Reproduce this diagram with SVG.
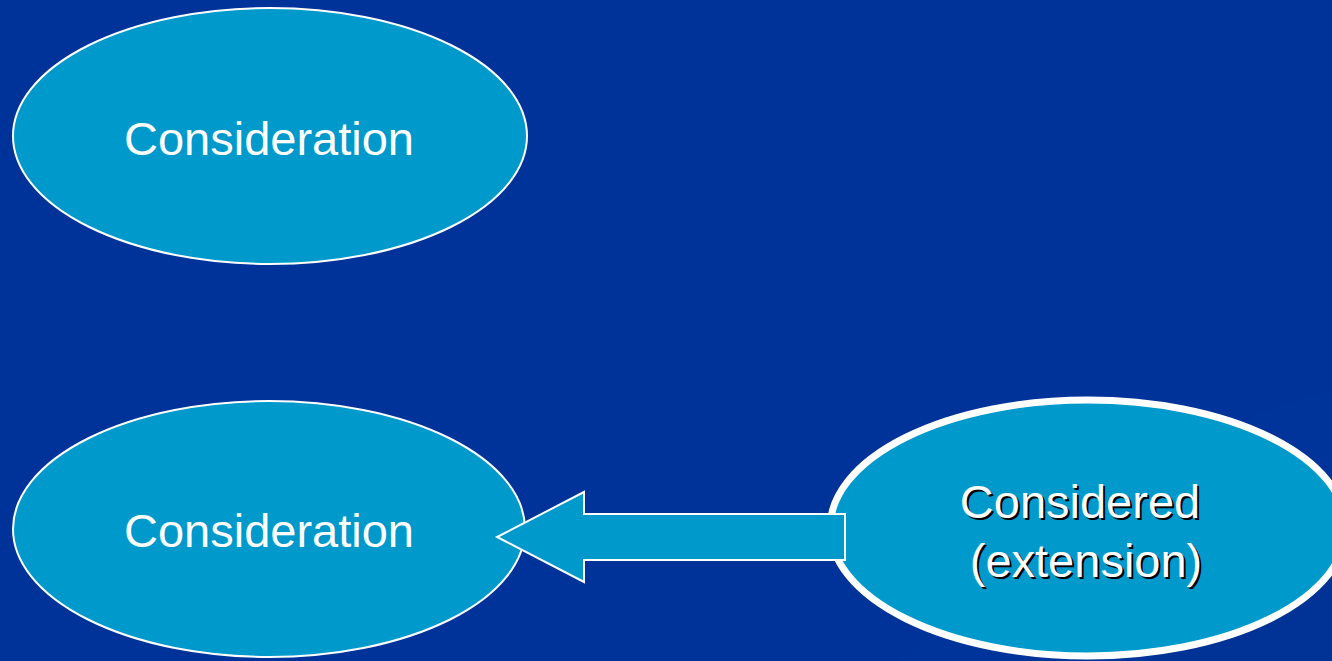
<svg xmlns="http://www.w3.org/2000/svg" width="1332" height="661" viewBox="0 0 1332 661">
  <style>
    .node { fill: #0099CC; stroke: #FFFFFF; }
    .label { font-family: "Liberation Sans", Arial, sans-serif; font-size: 47px; fill: #FFFFFF; text-anchor: middle; }
    .shadow { font-family: "Liberation Sans", Arial, sans-serif; font-size: 47px; fill: #000000; text-anchor: middle; }
  </style>
  <rect x="0" y="0" width="1332" height="661" fill="#00339A"/>
  <path d="M900,661 C1050,520 1200,420 1332,390 L1332,661 Z" fill="#003599" opacity="0.5"/>
  <path d="M1150,661 C1220,560 1280,500 1332,480 L1332,661 Z" fill="#00318F" opacity="0.4"/>

  <g id="node-top">
    <ellipse class="node" cx="270" cy="136" rx="257" ry="128" stroke-width="2"/>
    <text class="label" x="269" y="155">Consideration</text>
  </g>

  <g id="node-bottom">
    <ellipse class="node" cx="269" cy="529" rx="256" ry="128" stroke-width="2"/>
    <text class="label" x="269" y="547">Consideration</text>
  </g>

  <g id="node-right">
    <ellipse class="node" cx="1088" cy="528" rx="258" ry="128" stroke-width="7"/>
    <text class="shadow" x="1082" y="520">Considered</text>
    <text class="label" x="1080" y="518">Considered</text>
    <text class="shadow" x="1088" y="579">(extension)</text>
    <text class="label" x="1086" y="577">(extension)</text>
  </g>

  <g id="connectors">
    <polygon class="node" stroke-width="2" points="845,514 584,514 584,492 497,537 584,582 584,560 845,560"/>
  </g>
</svg>
